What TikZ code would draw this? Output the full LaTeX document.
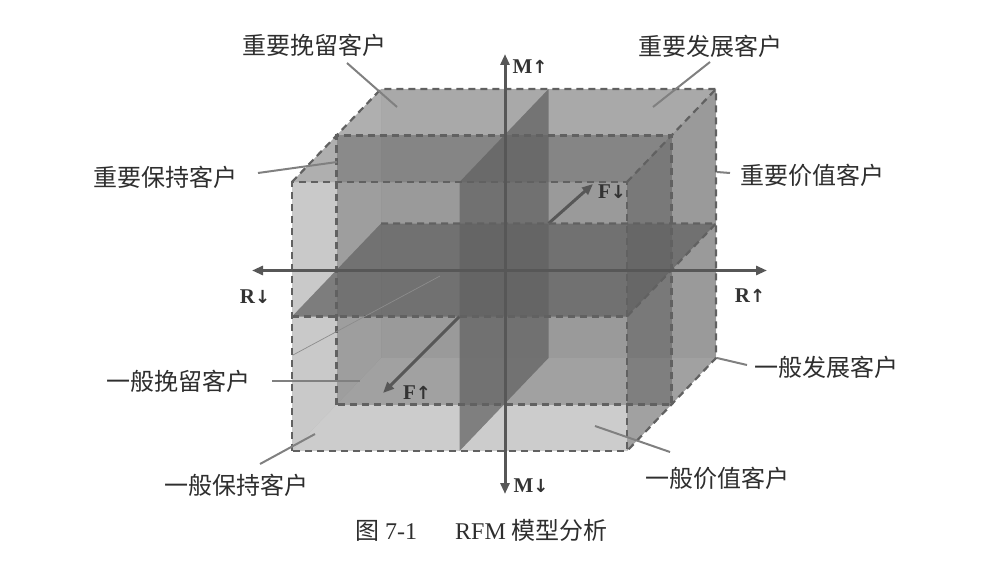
\documentclass[tikz,border=0pt]{standalone}
\usepackage{fontspec}
\setmainfont{Liberation Serif}
\newfontfamily\cjk{Noto Sans CJK SC}
\newfontfamily\arrfont{DejaVu Sans}
\usetikzlibrary{arrows.meta}
\tikzset{
  face/.style={fill=black,draw=none,fill opacity=#1},
  plane/.style={fill=black!62,draw=none,fill opacity=0.72},
  edge/.style={draw=black!62,line width=2.2pt,dash pattern=on 7pt off 5pt},
  axis/.style={draw=black!66,line width=3pt,-{Triangle[length=11pt,width=9pt]}},
  leader/.style={draw=black!50,line width=2pt},
  lab/.style={font=\cjk\fontsize{24}{26}\selectfont,text=black!82,inner sep=0pt},
  axlab/.style={font=\bfseries\fontsize{21}{23}\selectfont,text=black!80,inner sep=0pt},
  captxt/.style={font=\fontsize{24}{26}\selectfont,text=black!82,inner sep=0pt}
}
\newcommand{\upar}{{\arrfont\bfseries\fontsize{18}{20}\selectfont ↑}}
\newcommand{\dnar}{{\arrfont\bfseries\fontsize{18}{20}\selectfont ↓}}
\begin{document}
\begin{tikzpicture}[x=1pt,y=-1pt]
\useasboundingbox (0,0) rectangle (1001,567);
% box corners
\coordinate (FLB) at (292,451); \coordinate (FRB) at (627,451);
\coordinate (FRT) at (627,182); \coordinate (FLT) at (292,182);
\coordinate (BLB) at (381,358); \coordinate (BRB) at (716,358);
\coordinate (BRT) at (716,89);  \coordinate (BLT) at (381,89);
\coordinate (MLB) at (336.5,404.5); \coordinate (MRT) at (671.5,135.5);
\coordinate (VFT) at (459.5,182); \coordinate (VBT) at (548.5,89);
\coordinate (VBB) at (548.5,358); \coordinate (VFB) at (459.5,451);
\coordinate (HFL) at (292,316.5); \coordinate (HFR) at (627,316.5);
\coordinate (HBR) at (716,223.5); \coordinate (HBL) at (381,223.5);
% faces (semi-transparent)
\fill[face=0.15] (BLB) rectangle (BRT);                 % back
\fill[face=0.12] (FLB) -- (FLT) -- (BLT) -- (BLB) -- cycle; % left
\fill[face=0.11] (FLB) -- (FRB) -- (BRB) -- (BLB) -- cycle; % bottom
\fill[face=0.22] (FLT) -- (FRT) -- (BRT) -- (BLT) -- cycle; % top
\fill[face=0.29] (FRB) -- (FRT) -- (BRT) -- (BRB) -- cycle; % right
\fill[face=0.10] (FLB) rectangle (FRT);                 % front
\fill[face=0.21] (MLB) rectangle (MRT);                 % middle section
% F axis (outside parts)
\coordinate (FC) at (459.5,316.5); \coordinate (FfTip) at (383,393);
\coordinate (BC) at (548.5,223.5); \coordinate (FbTip) at (593,184);
\draw[axis] (FC) -- (FfTip);
\draw[axis] (BC) -- (FbTip);
% planes
\fill[plane] (VFT) -- (VBT) -- (VBB) -- (VFB) -- cycle;
\fill[plane] (HFL) -- (HFR) -- (HBR) -- (HBL) -- cycle;
% dashed edges
\draw[edge] (FLB) rectangle (FRT);
\draw[edge] (FLT) -- (BLT) -- (BRT) -- (BRB) -- (FRB);
\draw[edge] (FRT) -- (BRT);
\draw[edge] (MLB) rectangle (MRT);
\draw[edge] (HBL) -- (HBR) -- (HFR);
\draw[edge] (HFL) -- (HFR);
% faint thin line
\coordinate (t1) at (293,355); \coordinate (t2) at (440,276);
\draw[black!45,line width=0.7pt] (t1) -- (t2);
% R and M axes
\coordinate (Rl) at (252,270.5); \coordinate (Rr) at (767,270.5);
\coordinate (Mt) at (505,54); \coordinate (Mb) at (505,494);
\draw[axis,{Triangle[length=11pt,width=9pt]}-{Triangle[length=11pt,width=9pt]}] (Rl) -- (Rr);
\draw[axis,{Triangle[length=11pt,width=9pt]}-{Triangle[length=11pt,width=9pt]}] (Mb) -- (Mt);
% axis labels
\node[axlab] (mu) at (530,67) {M\upar};
\node[axlab] (md) at (531,486) {M\dnar};
\node[axlab] (rd) at (255,297) {R\dnar};
\node[axlab] (ru) at (750,296) {R\upar};
\node[axlab] (fd) at (612,192) {F\dnar};
\node[axlab] (fu) at (417,393) {F\upar};
% labels
\node[lab] (l1) at (314,45) {重要挽留客户};
\node[lab] (l2) at (710,46) {重要发展客户};
\node[lab] (l3) at (165,177) {重要保持客户};
\node[lab] (l4) at (812,175) {重要价值客户};
\node[lab] (l5) at (826,367) {一般发展客户};
\node[lab] (l6) at (178,381) {一般挽留客户};
\node[lab] (l7) at (236,485) {一般保持客户};
\node[lab] (l8) at (717,478) {一般价值客户};
% leaders
\coordinate (a1) at (347,63);  \coordinate (b1) at (397,107);
\coordinate (a2) at (710,62);  \coordinate (b2) at (653,107);
\coordinate (a3) at (258,173); \coordinate (b3) at (337,162);
\coordinate (a4) at (730,173); \coordinate (b4) at (717,172);
\coordinate (a5) at (747,365); \coordinate (b5) at (717,358);
\coordinate (a6) at (272,381); \coordinate (b6) at (360,381);
\coordinate (a7) at (260,464); \coordinate (b7) at (315,434);
\coordinate (a8) at (670,452); \coordinate (b8) at (595,426);
\foreach \i in {1,...,8} {\draw[leader] (a\i) -- (b\i);}
% caption
\node[captxt,anchor=west] (cap) at (355,530) {{\cjk 图}\hspace{6pt}7-1\hspace{38pt}RFM\hspace{6pt}{\cjk 模型分析}};
\end{tikzpicture}
\end{document}
